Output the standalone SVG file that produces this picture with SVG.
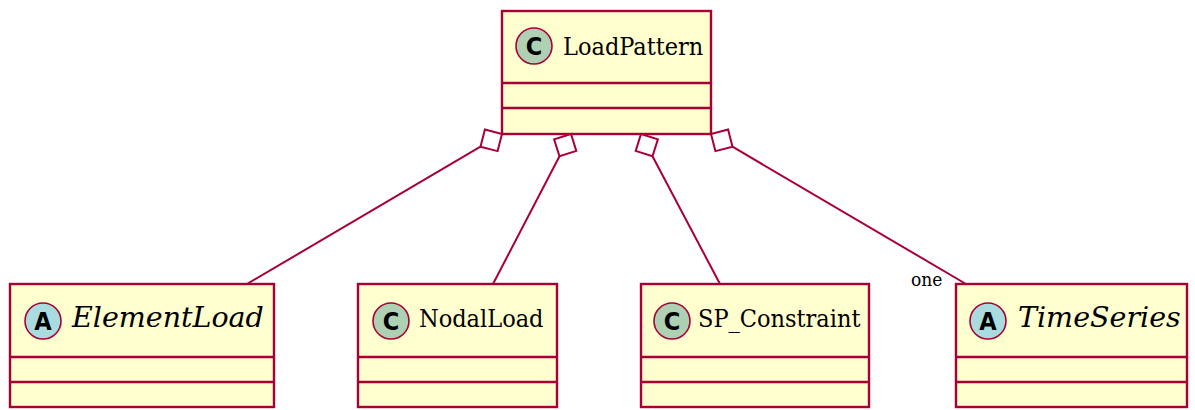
<svg xmlns="http://www.w3.org/2000/svg" width="1195" height="410" viewBox="0 0 1195 410">
<style>
.box{fill:#FEFECE;stroke:#A80036;stroke-width:2.4}
.div{stroke:#A80036;stroke-width:2.4}
.cc{fill:#ADD1B2;stroke:#A80036;stroke-width:1.6}
.ca{fill:#A9DCDF;stroke:#A80036;stroke-width:1.6}
.letter{font-family:"DejaVu Sans Condensed","DejaVu Sans","Liberation Sans",sans-serif;font-stretch:condensed;font-weight:bold;font-size:25px;fill:#000;text-anchor:middle}
.name{font-family:"DejaVu Serif Condensed","DejaVu Serif",serif;font-stretch:condensed;font-size:25px;fill:#000}
.it{font-family:"DejaVu Serif",serif;font-stretch:normal;font-style:italic;font-size:28.5px}
.edge{stroke:#A80036;stroke-width:2;fill:none}
.dia{stroke:#A80036;stroke-width:2;fill:#FFFFFF}
.lbl{font-family:"DejaVu Serif Condensed","DejaVu Serif",serif;font-stretch:condensed;font-size:19px;fill:#000}
</style>
<g id="LoadPattern">
<rect class="box" x="502" y="11" width="209" height="123"/>
<line class="div" x1="502" y1="83" x2="711" y2="83"/>
<line class="div" x1="502" y1="108" x2="711" y2="108"/>
<circle class="cc" cx="534" cy="46" r="18"/>
<text class="letter" x="534" y="55">C</text>
<text class="name" x="563" y="55">LoadPattern</text>
</g>
<g id="ElementLoad">
<rect class="box" x="10" y="284" width="264" height="123"/>
<line class="div" x1="10" y1="357" x2="274" y2="357"/>
<line class="div" x1="10" y1="382" x2="274" y2="382"/>
<circle class="ca" cx="43" cy="321" r="18"/>
<text class="letter" x="43" y="330">A</text>
<text class="name it" x="72" y="327">ElementLoad</text>
</g>
<g id="NodalLoad">
<rect class="box" x="358" y="284" width="199" height="123"/>
<line class="div" x1="358" y1="357" x2="557" y2="357"/>
<line class="div" x1="358" y1="382" x2="557" y2="382"/>
<circle class="cc" cx="391" cy="321" r="18"/>
<text class="letter" x="391" y="330">C</text>
<text class="name" x="419" y="327">NodalLoad</text>
</g>
<g id="SP_Constraint">
<rect class="box" x="641" y="284" width="228" height="123"/>
<line class="div" x1="641" y1="357" x2="869" y2="357"/>
<line class="div" x1="641" y1="382" x2="869" y2="382"/>
<circle class="cc" cx="672" cy="321" r="18"/>
<text class="letter" x="672" y="330">C</text>
<text class="name" x="698" y="327">SP_Constraint</text>
</g>
<g id="TimeSeries">
<rect class="box" x="956" y="284" width="231" height="123"/>
<line class="div" x1="956" y1="357" x2="1187" y2="357"/>
<line class="div" x1="956" y1="382" x2="1187" y2="382"/>
<circle class="ca" cx="988" cy="321" r="18"/>
<text class="letter" x="988" y="330">A</text>
<text class="name it" x="1018" y="327">TimeSeries</text>
</g>
<g id="connectors">
<line class="edge" x1="480.5" y1="146.7" x2="247" y2="284"/>
<polygon class="dia" points="502,134 484.9,129.5 480.5,146.7 497.6,151.1"/>
<line class="edge" x1="559.5" y1="156.2" x2="493" y2="284"/>
<polygon class="dia" points="571,134 554.1,139.3 559.5,156.2 576.3,150.9"/>
<line class="edge" x1="652.5" y1="156.2" x2="720" y2="284"/>
<polygon class="dia" points="641,134 657.9,139.3 652.5,156.2 635.7,150.9"/>
<line class="edge" x1="732.5" y1="146.7" x2="966" y2="284"/>
<polygon class="dia" points="711,134 728.1,129.5 732.5,146.7 715.4,151.1"/>
<text class="lbl" x="911" y="286">one</text>
</g>
</svg>
